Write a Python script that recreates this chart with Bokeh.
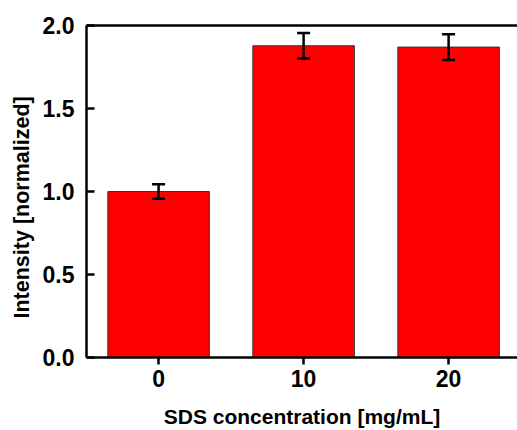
from bokeh.plotting import figure
from bokeh.models import (ColumnDataSource, Range1d, FixedTicker, NumeralTickFormatter,
                          LinearAxis, Whisker, TeeHead, Title)
from bokeh.embed import file_html
from bokeh.resources import INLINE

categories = ["0", "10", "20"]
intensity = [1.0, 1.878, 1.870]
error = [0.043, 0.077, 0.078]
y_ticks = [0.0, 0.5, 1.0, 1.5, 2.0]

xpos = list(range(len(categories)))
src = ColumnDataSource(dict(
    x=xpos, top=intensity,
    upper=[v + e for v, e in zip(intensity, error)],
    lower=[v - e for v, e in zip(intensity, error)],
))

FONT = "Liberation Sans"

p = figure(width=517, height=430, output_backend="svg", toolbar_location=None,
           x_range=Range1d(-0.497, 2.475), y_range=Range1d(0, 2.0),
           min_border_left=86, min_border_right=0, min_border_top=25, min_border_bottom=73)
p.outline_line_color = None
p.xgrid.visible = False
p.ygrid.visible = False
p.background_fill_color = "white"
p.border_fill_color = "white"

p.vbar(x="x", top="top", width=0.7, bottom=0, source=src,
       fill_color="#FF0000", line_color="#333333", line_width=1)

tee = dict(size=13, line_width=2.5, line_color="black")
w = Whisker(base="x", upper="upper", lower="lower", source=src, level="overlay",
            line_width=2.5, line_color="black",
            upper_head=TeeHead(**tee), lower_head=TeeHead(**tee))
p.add_layout(w)

# x axis
xa = p.xaxis[0]
xa.ticker = FixedTicker(ticks=xpos)
xa.major_label_overrides = {i: c for i, c in zip(xpos, categories)}
xa.minor_tick_line_color = None
xa.major_tick_in = 0
xa.major_tick_out = 7
xa.major_tick_line_width = 2.5
xa.axis_line_width = 2.5
xa.major_label_text_font = FONT
xa.major_label_text_font_style = "bold"
xa.major_label_text_font_size = "23px"
xa.major_label_standoff = 5
xa.major_label_text_color = "black"
xa.axis_label = "SDS concentration [mg/mL]"
xa.axis_label_text_font = FONT
xa.axis_label_text_font_style = "bold"
xa.axis_label_text_font_size = "21px"
xa.axis_label_standoff = 15
xa.axis_label_text_color = "black"

# y axis
ya = p.yaxis[0]
ya.ticker = FixedTicker(ticks=y_ticks)
ya.formatter = NumeralTickFormatter(format="0.0")
ya.minor_tick_line_color = None
ya.major_tick_in = 8
ya.major_tick_out = 0
ya.major_tick_line_width = 2.5
ya.axis_line_width = 2.5
ya.major_label_text_font = FONT
ya.major_label_text_font_style = "bold"
ya.major_label_text_font_size = "23px"
ya.major_label_standoff = 12
ya.major_label_text_color = "black"

# top frame line
top_axis = LinearAxis(ticker=FixedTicker(ticks=[]), axis_line_width=2.5,
                      major_tick_line_color=None, minor_tick_line_color=None,
                      major_label_text_font_size="0px")
p.add_layout(top_axis, "above")

# y axis title
p.add_layout(Title(text="Intensity [normalized]", align="left", offset=39,
                   text_font=FONT, text_font_style="bold", text_font_size="21.5px",
                   text_color="black", standoff=12), "left")

open("out.html", "w").write(file_html(p, INLINE))
